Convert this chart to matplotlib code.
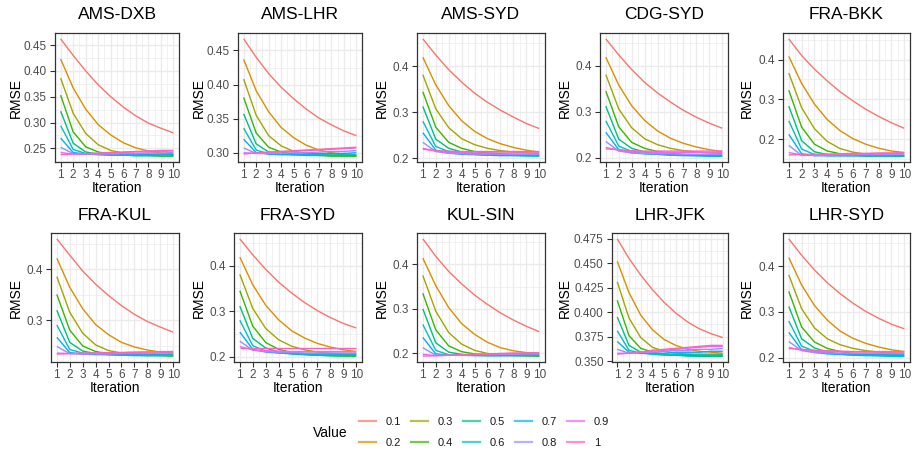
import matplotlib
matplotlib.use('Agg')
import matplotlib.pyplot as plt
from matplotlib.lines import Line2D
from matplotlib.ticker import MultipleLocator, FixedLocator, FormatStrFormatter

plt.rcParams['font.family'] = ['Liberation Sans', 'DejaVu Sans']

# ---------------- data ----------------
iterations = [1, 2, 3, 4, 5, 6, 7, 8, 9, 10]
values = ['0.1', '0.2', '0.3', '0.4', '0.5', '0.6', '0.7', '0.8', '0.9', '1']
colors = ['#F8766D', '#D89000', '#A3A500', '#39B600', '#00BF7D',
          '#00BFC4', '#00B0F6', '#9590FF', '#E76BF3', '#FF62BC']
routes = ['AMS-DXB', 'AMS-LHR', 'AMS-SYD', 'CDG-SYD', 'FRA-BKK',
          'FRA-KUL', 'FRA-SYD', 'KUL-SIN', 'LHR-JFK', 'LHR-SYD']

ams_dxb = [
    [0.462, 0.430, 0.400, 0.373, 0.350, 0.330, 0.313, 0.299, 0.289, 0.280],
    [0.423, 0.367, 0.326, 0.296, 0.276, 0.261, 0.251, 0.245, 0.241, 0.239],
    [0.386, 0.318, 0.279, 0.257, 0.246, 0.241, 0.239, 0.238, 0.237, 0.237],
    [0.353, 0.282, 0.253, 0.243, 0.239, 0.237, 0.236, 0.236, 0.235, 0.235],
    [0.322, 0.260, 0.243, 0.239, 0.237, 0.237, 0.236, 0.236, 0.236, 0.236],
    [0.294, 0.248, 0.240, 0.238, 0.237, 0.237, 0.237, 0.237, 0.237, 0.237],
    [0.270, 0.242, 0.239, 0.238, 0.238, 0.238, 0.238, 0.239, 0.239, 0.239],
    [0.252, 0.240, 0.239, 0.239, 0.239, 0.240, 0.240, 0.241, 0.241, 0.242],
    [0.242, 0.239, 0.239, 0.240, 0.241, 0.242, 0.243, 0.243, 0.244, 0.245],
    [0.238, 0.239, 0.240, 0.241, 0.242, 0.243, 0.244, 0.245, 0.246, 0.246],
]
ams_lhr = [
    [0.467, 0.440, 0.416, 0.396, 0.379, 0.364, 0.351, 0.341, 0.332, 0.325],
    [0.437, 0.391, 0.360, 0.337, 0.322, 0.311, 0.304, 0.300, 0.298, 0.297],
    [0.408, 0.355, 0.325, 0.310, 0.302, 0.299, 0.297, 0.296, 0.296, 0.295],
    [0.381, 0.329, 0.308, 0.301, 0.298, 0.297, 0.296, 0.295, 0.295, 0.295],
    [0.357, 0.313, 0.301, 0.298, 0.297, 0.296, 0.296, 0.296, 0.296, 0.296],
    [0.336, 0.304, 0.298, 0.297, 0.297, 0.297, 0.297, 0.297, 0.297, 0.297],
    [0.320, 0.300, 0.298, 0.298, 0.298, 0.298, 0.299, 0.299, 0.299, 0.300],
    [0.307, 0.299, 0.299, 0.299, 0.300, 0.300, 0.301, 0.302, 0.302, 0.303],
    [0.300, 0.299, 0.300, 0.301, 0.302, 0.303, 0.304, 0.305, 0.306, 0.307],
    [0.298, 0.300, 0.301, 0.302, 0.303, 0.304, 0.305, 0.306, 0.307, 0.308],
]
ams_syd = [
    [0.460, 0.425, 0.393, 0.366, 0.342, 0.322, 0.305, 0.290, 0.276, 0.265],
    [0.420, 0.360, 0.315, 0.282, 0.259, 0.243, 0.232, 0.224, 0.218, 0.214],
    [0.382, 0.308, 0.267, 0.243, 0.230, 0.222, 0.217, 0.214, 0.212, 0.211],
    [0.345, 0.268, 0.235, 0.222, 0.215, 0.212, 0.210, 0.209, 0.208, 0.208],
    [0.313, 0.242, 0.222, 0.214, 0.211, 0.209, 0.208, 0.207, 0.207, 0.206],
    [0.281, 0.226, 0.215, 0.211, 0.209, 0.207, 0.206, 0.206, 0.205, 0.205],
    [0.256, 0.218, 0.212, 0.209, 0.208, 0.207, 0.207, 0.207, 0.207, 0.207],
    [0.235, 0.215, 0.211, 0.210, 0.209, 0.209, 0.209, 0.209, 0.209, 0.209],
    [0.222, 0.216, 0.214, 0.213, 0.212, 0.212, 0.212, 0.212, 0.212, 0.212],
    [0.220, 0.217, 0.216, 0.215, 0.215, 0.215, 0.215, 0.215, 0.215, 0.215],
]
cdg_syd = [
    [0.459, 0.424, 0.392, 0.364, 0.341, 0.321, 0.303, 0.288, 0.275, 0.264],
    [0.419, 0.358, 0.313, 0.281, 0.258, 0.242, 0.231, 0.223, 0.217, 0.213],
    [0.381, 0.306, 0.265, 0.241, 0.228, 0.220, 0.215, 0.212, 0.210, 0.209],
    [0.345, 0.267, 0.233, 0.220, 0.213, 0.209, 0.207, 0.206, 0.205, 0.204],
    [0.312, 0.240, 0.220, 0.212, 0.208, 0.206, 0.205, 0.204, 0.203, 0.203],
    [0.280, 0.225, 0.213, 0.209, 0.207, 0.205, 0.204, 0.204, 0.203, 0.203],
    [0.255, 0.217, 0.210, 0.208, 0.207, 0.206, 0.205, 0.205, 0.205, 0.205],
    [0.235, 0.214, 0.210, 0.209, 0.208, 0.208, 0.207, 0.207, 0.207, 0.207],
    [0.222, 0.216, 0.213, 0.212, 0.211, 0.211, 0.211, 0.211, 0.211, 0.211],
    [0.219, 0.217, 0.215, 0.214, 0.214, 0.214, 0.214, 0.214, 0.214, 0.214],
]
fra_bkk = [
    [0.452, 0.410, 0.376, 0.346, 0.319, 0.296, 0.275, 0.257, 0.241, 0.227],
    [0.408, 0.340, 0.288, 0.249, 0.221, 0.201, 0.187, 0.177, 0.170, 0.166],
    [0.366, 0.279, 0.226, 0.194, 0.176, 0.167, 0.162, 0.160, 0.159, 0.158],
    [0.323, 0.230, 0.187, 0.170, 0.163, 0.160, 0.158, 0.158, 0.157, 0.157],
    [0.283, 0.196, 0.168, 0.161, 0.159, 0.158, 0.157, 0.157, 0.157, 0.157],
    [0.246, 0.175, 0.161, 0.158, 0.158, 0.158, 0.158, 0.158, 0.158, 0.158],
    [0.212, 0.163, 0.158, 0.158, 0.158, 0.159, 0.159, 0.159, 0.159, 0.159],
    [0.184, 0.159, 0.159, 0.159, 0.160, 0.160, 0.161, 0.161, 0.161, 0.162],
    [0.166, 0.160, 0.160, 0.161, 0.162, 0.162, 0.163, 0.163, 0.164, 0.164],
    [0.160, 0.161, 0.162, 0.162, 0.163, 0.164, 0.164, 0.165, 0.165, 0.166],
]
fra_kul = [
    [0.460, 0.428, 0.397, 0.371, 0.349, 0.329, 0.312, 0.298, 0.287, 0.277],
    [0.422, 0.365, 0.323, 0.292, 0.272, 0.257, 0.248, 0.242, 0.238, 0.236],
    [0.386, 0.316, 0.275, 0.252, 0.241, 0.236, 0.234, 0.233, 0.232, 0.232],
    [0.351, 0.281, 0.250, 0.239, 0.235, 0.233, 0.232, 0.231, 0.231, 0.230],
    [0.320, 0.257, 0.240, 0.235, 0.233, 0.232, 0.231, 0.231, 0.231, 0.231],
    [0.291, 0.243, 0.236, 0.234, 0.233, 0.232, 0.232, 0.232, 0.232, 0.232],
    [0.267, 0.237, 0.234, 0.233, 0.233, 0.233, 0.233, 0.233, 0.234, 0.234],
    [0.249, 0.235, 0.234, 0.234, 0.234, 0.235, 0.235, 0.235, 0.236, 0.236],
    [0.236, 0.235, 0.235, 0.236, 0.236, 0.237, 0.237, 0.238, 0.238, 0.239],
    [0.234, 0.235, 0.236, 0.236, 0.237, 0.237, 0.238, 0.238, 0.239, 0.239],
]
fra_syd = [
    [0.459, 0.424, 0.392, 0.364, 0.340, 0.319, 0.301, 0.286, 0.273, 0.263],
    [0.419, 0.358, 0.313, 0.281, 0.257, 0.241, 0.229, 0.221, 0.215, 0.211],
    [0.381, 0.306, 0.262, 0.237, 0.223, 0.215, 0.210, 0.207, 0.205, 0.204],
    [0.345, 0.267, 0.231, 0.216, 0.209, 0.205, 0.203, 0.202, 0.201, 0.201],
    [0.311, 0.240, 0.219, 0.210, 0.206, 0.204, 0.203, 0.202, 0.202, 0.202],
    [0.280, 0.224, 0.212, 0.208, 0.206, 0.205, 0.204, 0.204, 0.204, 0.204],
    [0.254, 0.216, 0.210, 0.208, 0.207, 0.206, 0.206, 0.206, 0.206, 0.206],
    [0.234, 0.214, 0.211, 0.209, 0.209, 0.208, 0.208, 0.208, 0.208, 0.208],
    [0.222, 0.215, 0.213, 0.212, 0.211, 0.211, 0.211, 0.211, 0.211, 0.211],
    [0.218, 0.218, 0.218, 0.218, 0.218, 0.218, 0.218, 0.218, 0.218, 0.218],
]
kul_sin = [
    [0.457, 0.418, 0.384, 0.356, 0.331, 0.310, 0.291, 0.275, 0.261, 0.249],
    [0.414, 0.352, 0.303, 0.267, 0.243, 0.225, 0.213, 0.206, 0.202, 0.200],
    [0.375, 0.295, 0.247, 0.221, 0.207, 0.200, 0.197, 0.196, 0.195, 0.195],
    [0.335, 0.253, 0.217, 0.204, 0.199, 0.197, 0.196, 0.195, 0.195, 0.194],
    [0.300, 0.224, 0.203, 0.198, 0.196, 0.195, 0.195, 0.195, 0.195, 0.195],
    [0.265, 0.207, 0.197, 0.196, 0.195, 0.195, 0.195, 0.196, 0.196, 0.196],
    [0.236, 0.199, 0.196, 0.196, 0.196, 0.196, 0.197, 0.197, 0.197, 0.197],
    [0.213, 0.196, 0.196, 0.196, 0.197, 0.197, 0.198, 0.198, 0.199, 0.199],
    [0.198, 0.195, 0.196, 0.197, 0.198, 0.198, 0.199, 0.200, 0.200, 0.201],
    [0.194, 0.195, 0.196, 0.197, 0.198, 0.199, 0.200, 0.201, 0.201, 0.202],
]
lhr_jfk = [
    [0.475, 0.455, 0.438, 0.423, 0.410, 0.399, 0.390, 0.383, 0.378, 0.374],
    [0.452, 0.420, 0.397, 0.382, 0.372, 0.366, 0.362, 0.360, 0.359, 0.358],
    [0.431, 0.394, 0.374, 0.364, 0.360, 0.358, 0.357, 0.356, 0.356, 0.356],
    [0.412, 0.376, 0.363, 0.359, 0.357, 0.356, 0.356, 0.355, 0.355, 0.355],
    [0.395, 0.366, 0.359, 0.357, 0.356, 0.356, 0.355, 0.355, 0.355, 0.355],
    [0.381, 0.361, 0.358, 0.357, 0.357, 0.357, 0.357, 0.357, 0.357, 0.357],
    [0.370, 0.359, 0.358, 0.358, 0.358, 0.359, 0.359, 0.359, 0.360, 0.360],
    [0.362, 0.358, 0.359, 0.359, 0.360, 0.361, 0.361, 0.362, 0.362, 0.363],
    [0.358, 0.358, 0.359, 0.360, 0.361, 0.362, 0.363, 0.364, 0.365, 0.365],
    [0.357, 0.358, 0.359, 0.361, 0.362, 0.363, 0.364, 0.365, 0.366, 0.366],
]
lhr_syd = [
    [0.460, 0.424, 0.392, 0.364, 0.340, 0.319, 0.301, 0.286, 0.273, 0.263],
    [0.419, 0.359, 0.314, 0.282, 0.258, 0.242, 0.231, 0.223, 0.217, 0.213],
    [0.381, 0.307, 0.265, 0.241, 0.228, 0.220, 0.215, 0.212, 0.210, 0.209],
    [0.345, 0.267, 0.234, 0.220, 0.213, 0.209, 0.207, 0.206, 0.205, 0.204],
    [0.312, 0.241, 0.221, 0.212, 0.208, 0.206, 0.205, 0.204, 0.203, 0.203],
    [0.280, 0.225, 0.214, 0.209, 0.207, 0.205, 0.204, 0.204, 0.203, 0.203],
    [0.255, 0.217, 0.211, 0.208, 0.207, 0.206, 0.206, 0.206, 0.206, 0.206],
    [0.235, 0.215, 0.211, 0.210, 0.209, 0.209, 0.209, 0.209, 0.209, 0.209],
    [0.222, 0.216, 0.214, 0.213, 0.212, 0.212, 0.212, 0.212, 0.212, 0.212],
    [0.220, 0.218, 0.216, 0.215, 0.214, 0.213, 0.213, 0.213, 0.213, 0.213],
]
rmse_by_route = [ams_dxb, ams_lhr, ams_syd, cdg_syd, fra_bkk,
                 fra_kul, fra_syd, kul_sin, lhr_jfk, lhr_syd]

yticks_by_route = [
    [0.25, 0.30, 0.35, 0.40, 0.45],
    [0.30, 0.35, 0.40, 0.45],
    [0.2, 0.3, 0.4],
    [0.2, 0.3, 0.4],
    [0.2, 0.3, 0.4],
    [0.3, 0.4],
    [0.2, 0.3, 0.4],
    [0.2, 0.3, 0.4],
    [0.350, 0.375, 0.400, 0.425, 0.450, 0.475],
    [0.2, 0.3, 0.4],
]
ytick_fmt = ['%.2f', '%.2f', '%.1f', '%.1f', '%.1f',
             '%.1f', '%.1f', '%.1f', '%.3f', '%.1f']

# ---------------- layout (pixels) ----------------
W, H = 914, 450
cell_w = W / 5
lefts = [[55, 238, 417, 600, 783], [51, 234, 417, 612, 783]]
rights = [179, 362, 545, 728, 910]
tops = [33, 233]
bottoms = [162, 362]

fig = plt.figure(figsize=(W / 100, H / 100), dpi=100)
fig.patch.set_facecolor('white')

grid_col = '#EBEBEB'
dark = '#333333'
tick_col = '#4D4D4D'

for k, route in enumerate(routes):
    r, c = divmod(k, 5)
    l, rt = lefts[r][c], rights[c]
    t, b = tops[r], bottoms[r]
    w, h = rt - l, b - t
    ax = fig.add_axes([l / W, 1 - b / H, w / W, h / H])
    ax.set_facecolor('white')
    for series, col in zip(rmse_by_route[k], colors):
        ax.plot(iterations, series, color=col, lw=1.0, solid_capstyle='butt')
    ax.margins(x=0.05, y=0.05)
    ax.set_xticks(iterations)
    ax.xaxis.set_minor_locator(FixedLocator([i + 0.5 for i in iterations[:-1]]))
    yt = yticks_by_route[k]
    step = yt[1] - yt[0]
    ax.yaxis.set_major_locator(FixedLocator(yt))
    ax.yaxis.set_major_formatter(FormatStrFormatter(ytick_fmt[k]))
    ax.yaxis.set_minor_locator(MultipleLocator(step / 2))
    ax.grid(True, which='major', color=grid_col, lw=1.0, zorder=0)
    ax.grid(True, which='minor', color=grid_col, lw=0.5, zorder=0)
    ax.set_axisbelow(True)
    for sp in ax.spines.values():
        sp.set_color(dark)
        sp.set_linewidth(0.9)
    ax.tick_params(which='major', length=3.5, width=0.8, color=dark,
                   labelsize=8.5, labelcolor=tick_col, pad=1.5)
    ax.tick_params(axis='y', pad=2.5)
    ax.tick_params(which='minor', length=0)
    # titles / axis labels
    ax.text(0.5, 1 + 18 / h, route, transform=ax.transAxes, ha='center',
            va='center', fontsize=12.5, color='black')
    ax.set_xlabel('Iteration', fontsize=10, color='black')
    ax.xaxis.label.set_va('center')
    ax.xaxis.set_label_coords(0.5, -26 / h)
    ax.set_ylabel('RMSE', fontsize=10, color='black')
    ax.yaxis.label.set_va('center')
    ax.yaxis.set_label_coords((c * cell_w + 16 - l) / w, 0.5)

# ---------------- legend ----------------
handles = [Line2D([], [], color=col, lw=1.6, alpha=0.7) for col in colors]
leg = fig.legend(handles, values, ncol=5, loc='center',
                 bbox_to_anchor=(484 / W, 1 - 432.5 / H), frameon=False,
                 fontsize=8, handlelength=1.5, handletextpad=0.9,
                 columnspacing=0.9, labelspacing=1.0)
for txt in leg.get_texts():
    txt.set_color('#1A1A1A')
fig.text(313 / W, 1 - 433 / H, 'Value', ha='left', va='center', fontsize=10)

fig.savefig('out.png', dpi=100, facecolor='white')
